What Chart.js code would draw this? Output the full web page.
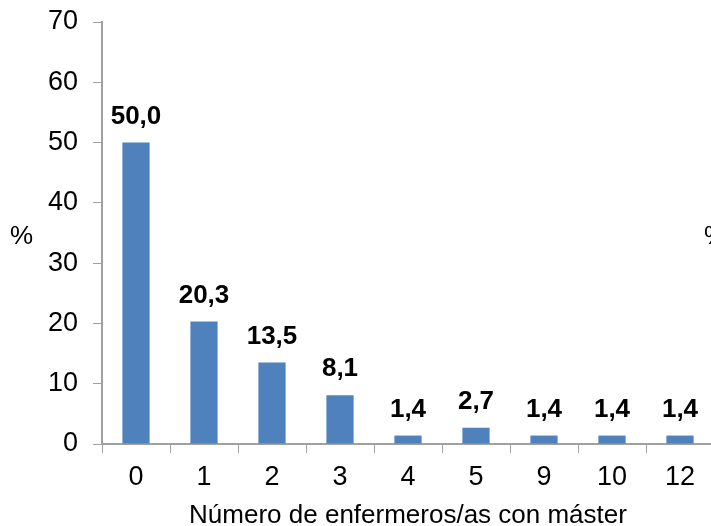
<!DOCTYPE html>
<html>
<head>
<meta charset="utf-8">
<script src="https://cdn.jsdelivr.net/npm/chart.js@4"></script>
<style>
  html, body { margin: 0; padding: 0; background: #fff; overflow: hidden; }
  #wrap { width: 760px; height: 526px; position: relative; }
</style>
</head>
<body>
<div id="wrap"><canvas id="masterChart"></canvas></div>
<script>
const categories = ['0', '1', '2', '3', '4', '5', '9', '10', '12'];
const percentages = [50.0, 20.3, 13.5, 8.1, 1.4, 2.7, 1.4, 1.4, 1.4];
const yTicks = [0, 10, 20, 30, 40, 50, 60, 70];

const FONT = "'Liberation Sans', Arial, sans-serif";
const axisGray = '#a0a0a0';

// etiquetas encima de cada barra + los "%" sueltos
const extraText = {
  id: 'extraText',
  afterDatasetsDraw(chart) {
    const ctx = chart.ctx;
    const meta = chart.getDatasetMeta(0);
    ctx.save();
    ctx.fillStyle = '#000';
    ctx.font = 'bold 26px ' + FONT;
    ctx.textAlign = 'center';
    ctx.textBaseline = 'bottom';
    meta.data.forEach((bar, i) => {
      ctx.fillText(percentages[i].toFixed(1).replace('.', ','), bar.x, bar.y - 13);
    });
    ctx.font = '26px ' + FONT;
    ctx.textBaseline = 'middle';
    ctx.textAlign = 'left';
    ctx.fillText('%', 10, 237);
    ctx.fillText('%', 704, 237);
    ctx.restore();
  }
};

const ctx = document.getElementById('masterChart').getContext('2d');
new Chart(ctx, {
  type: 'bar',
  data: {
    labels: categories,
    datasets: [{
      data: percentages,
      backgroundColor: '#4f81bd',
      borderWidth: 0,
      barPercentage: 0.4,
      categoryPercentage: 1.0
    }]
  },
  options: {
    responsive: true,
    maintainAspectRatio: false,
    animation: false,
    layout: {
      padding: { left: 0, right: 46, top: 22, bottom: 0 }
    },
    plugins: {
      legend: { display: false },
      tooltip: { enabled: false }
    },
    scales: {
      y: {
        min: 0,
        max: 70,
        afterBuildTicks(scale) {
          scale.ticks = yTicks.map(v => ({ value: v }));
        },
        afterFit(scale) {
          scale.width = 102;
          scale.paddingTop = 0;
          scale.paddingBottom = 0;
        },
        grid: {
          drawOnChartArea: false,
          drawTicks: true,
          tickLength: 9,
          color: axisGray
        },
        border: { color: axisGray, width: 2 },
        ticks: {
          color: '#000',
          padding: 15,
          font: { family: FONT, size: 27 }
        }
      },
      x: {
        afterFit(scale) {
          scale.height = 82;
        },
        grid: {
          drawOnChartArea: false,
          drawTicks: true,
          tickLength: 9,
          color: axisGray,
          offset: true
        },
        border: { color: axisGray, width: 2 },
        ticks: {
          color: '#000',
          padding: 8,
          font: { family: FONT, size: 27 }
        },
        title: {
          display: true,
          text: 'Número de enfermeros/as con máster',
          color: '#000',
          font: { family: FONT, size: 26 },
          padding: { top: 0, bottom: -5 }
        }
      }
    }
  },
  plugins: [extraText]
});
</script>
</body>
</html>
